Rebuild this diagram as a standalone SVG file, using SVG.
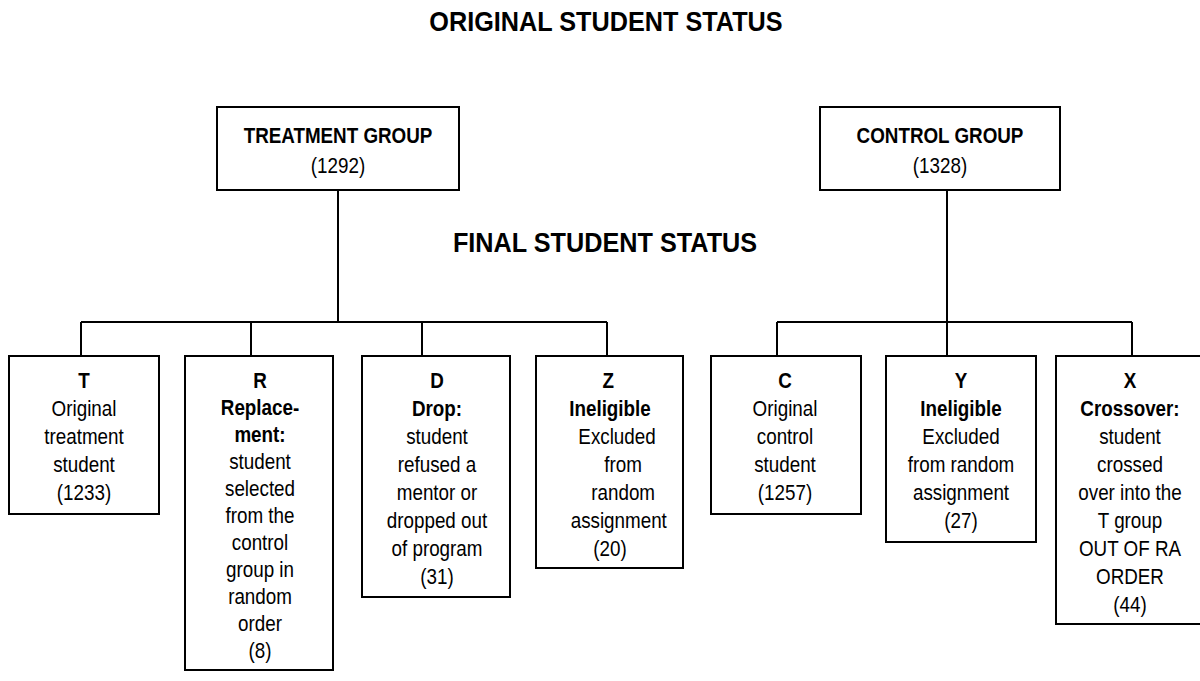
<svg xmlns="http://www.w3.org/2000/svg" width="1200" height="681" viewBox="0 0 1200 681">
<style>
  .box { fill: #ffffff; stroke: #000000; stroke-width: 2; }
  .conn { fill: none; stroke: #000000; stroke-width: 2; }
  text { font-family: "Liberation Sans", Arial, sans-serif; fill: #000000; }
  .title { font-size: 27px; font-weight: bold; text-anchor: middle; }
  .lbl { font-size: 21.5px; text-anchor: middle; }
  .b { font-weight: bold; }
</style>
<rect x="0" y="0" width="1200" height="681" fill="#ffffff"/>
<text class="title" transform="translate(606 0) scale(0.935 1)" x="0" y="31">ORIGINAL STUDENT STATUS</text>
<text class="title" transform="translate(605 0) scale(0.935 1)" x="0" y="252">FINAL STUDENT STATUS</text>

<g id="connectors">
  <path class="conn" d="M338 190 V322 M81 322 H607 M81 322 V356 M251 322 V356 M422 322 V356 M607 322 V356"/>
  <path class="conn" d="M947 190 V322 M777 322 H1132 M777 322 V356 M947 322 V356 M1132 322 V356"/>
</g>

<g id="node-treatment">
  <rect class="box" x="217" y="107" width="242" height="83"/>
  <text class="lbl" transform="translate(338 0) scale(0.875 1)"><tspan class="b" x="0" y="143">TREATMENT GROUP</tspan><tspan x="0" y="173">(1292)</tspan></text>
</g>
<g id="node-control">
  <rect class="box" x="820" y="107" width="240" height="83"/>
  <text class="lbl" transform="translate(940 0) scale(0.875 1)"><tspan class="b" x="0" y="143">CONTROL GROUP</tspan><tspan x="0" y="173">(1328)</tspan></text>
</g>

<g id="node-T">
  <rect class="box" x="9" y="356" width="150" height="158"/>
  <text class="lbl" transform="translate(84 0) scale(0.875 1)"><tspan class="b" x="0" y="388">T</tspan><tspan x="0" y="416">Original</tspan><tspan x="0" y="444">treatment</tspan><tspan x="0" y="472">student</tspan><tspan x="0" y="500">(1233)</tspan></text>
</g>
<g id="node-R">
  <rect class="box" x="185" y="356" width="148" height="314"/>
  <text class="lbl" transform="translate(260 0) scale(0.875 1)"><tspan class="b" x="0" y="388">R</tspan><tspan class="b" x="0" y="415">Replace-</tspan><tspan class="b" x="0" y="442">ment:</tspan><tspan x="0" y="469">student</tspan><tspan x="0" y="496">selected</tspan><tspan x="0" y="523">from the</tspan><tspan x="0" y="550">control</tspan><tspan x="0" y="577">group in</tspan><tspan x="0" y="604">random</tspan><tspan x="0" y="631">order</tspan><tspan x="0" y="658">(8)</tspan></text>
</g>
<g id="node-D">
  <rect class="box" x="362" y="356" width="148" height="241"/>
  <text class="lbl" transform="translate(437 0) scale(0.875 1)"><tspan class="b" x="0" y="388">D</tspan><tspan class="b" x="0" y="416">Drop:</tspan><tspan x="0" y="444">student</tspan><tspan x="0" y="472">refused a</tspan><tspan x="0" y="500">mentor or</tspan><tspan x="0" y="528">dropped out</tspan><tspan x="0" y="556">of program</tspan><tspan x="0" y="584">(31)</tspan></text>
</g>
<g id="node-Z">
  <rect class="box" x="536" y="356" width="147" height="212"/>
  <text class="lbl" transform="translate(610 0) scale(0.875 1)"><tspan class="b" x="-2" y="388">Z</tspan><tspan class="b" x="0" y="416">Ineligible</tspan><tspan x="8" y="444">Excluded</tspan><tspan x="15" y="472">from</tspan><tspan x="15" y="500">random</tspan><tspan x="10" y="528">assignment</tspan><tspan x="0" y="556">(20)</tspan></text>
</g>
<g id="node-C">
  <rect class="box" x="711" y="356" width="150" height="158"/>
  <text class="lbl" transform="translate(785 0) scale(0.875 1)"><tspan class="b" x="0" y="388">C</tspan><tspan x="0" y="416">Original</tspan><tspan x="0" y="444">control</tspan><tspan x="0" y="472">student</tspan><tspan x="0" y="500">(1257)</tspan></text>
</g>
<g id="node-Y">
  <rect class="box" x="886" y="356" width="150" height="186"/>
  <text class="lbl" transform="translate(961 0) scale(0.875 1)"><tspan class="b" x="0" y="388">Y</tspan><tspan class="b" x="0" y="416">Ineligible</tspan><tspan x="0" y="444">Excluded</tspan><tspan x="0" y="472">from random</tspan><tspan x="0" y="500">assignment</tspan><tspan x="0" y="528">(27)</tspan></text>
</g>
<g id="node-X">
  <rect class="box" x="1056" y="356" width="156" height="268"/>
  <text class="lbl" transform="translate(1130 0) scale(0.875 1)"><tspan class="b" x="0" y="388">X</tspan><tspan class="b" x="0" y="416">Crossover:</tspan><tspan x="0" y="444">student</tspan><tspan x="0" y="472">crossed</tspan><tspan x="0" y="500">over into the</tspan><tspan x="0" y="528">T group</tspan><tspan x="0" y="556">OUT OF RA</tspan><tspan x="0" y="584">ORDER</tspan><tspan x="0" y="612">(44)</tspan></text>
</g>
</svg>
